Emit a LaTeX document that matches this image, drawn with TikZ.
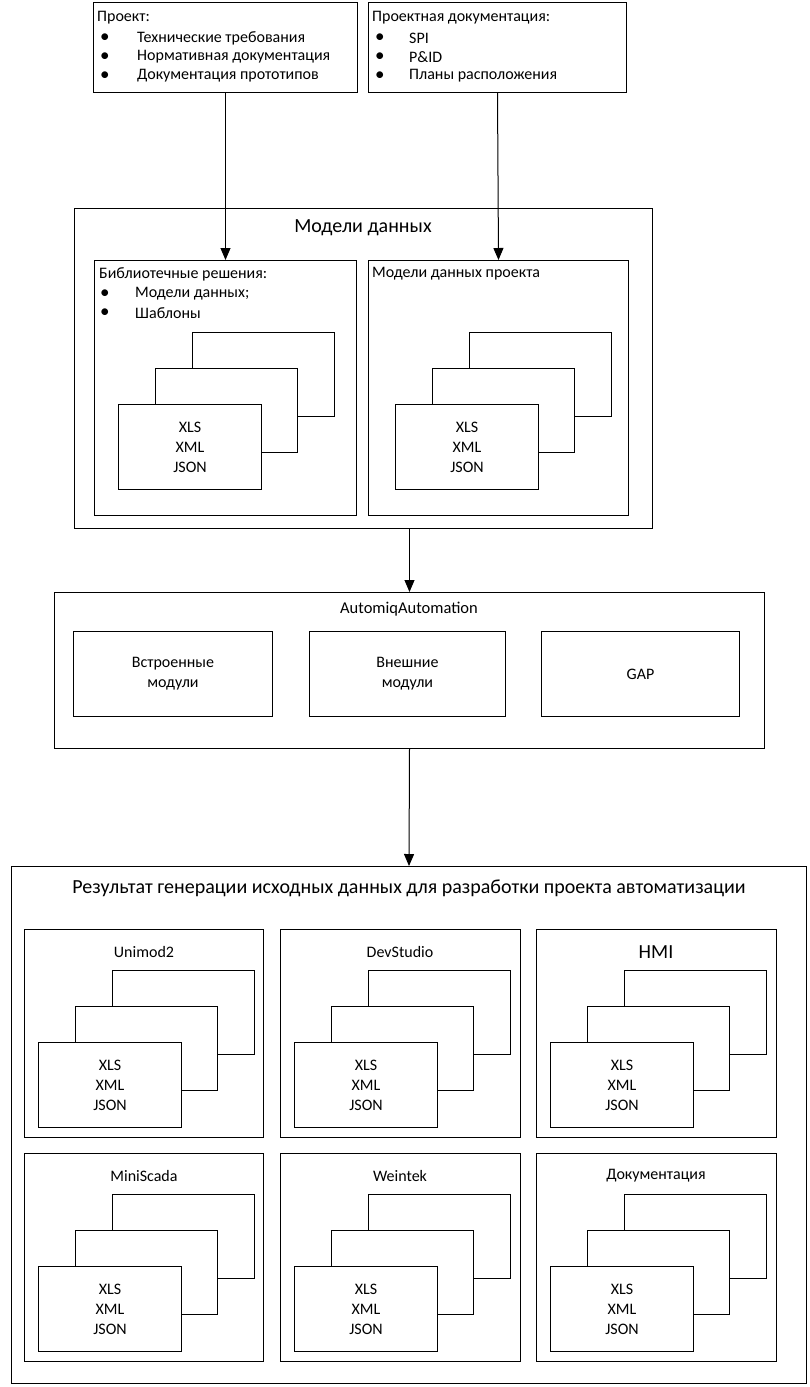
\documentclass[tikz,border=0pt]{standalone}
\usepackage{fontspec}
\setmainfont{Carlito}
\usetikzlibrary{arrows.meta}
\newcommand{\bodyfont}{\fontsize{16}{20}\selectfont}
\newcommand{\filestack}[3]{%
  \node[box, minimum width=142pt, minimum height=84pt] (#3b) at (#1+74,#2-72) {};
  \node[box, minimum width=142pt, minimum height=84pt] (#3m) at (#1+37,#2-36) {};
  \node[box, minimum width=143pt, minimum height=85pt, align=center, font=\bodyfont] (#3f) at (#1,#2) {XLS\\XML\\JSON};
}
\newcommand{\resbox}[5]{%
  \node[box, minimum width=#3pt, minimum height=208pt] (#5) at (#1,#2) {};
  \node[lbl] (#5l) at (#1+120,#2+23) {#4};
  \filestack{#1+14}{#2+113}{#5s}
}
\begin{document}
\begin{tikzpicture}[x=1pt,y=-1pt,
  box/.style={draw, line width=1pt, fill=white, inner sep=0pt, anchor=north west},
  txt/.style={font=\bodyfont, inner sep=0pt, anchor=west},
  bul/.style={font=\fontsize{19}{20}\selectfont, inner sep=0pt, anchor=west},
  lbl/.style={font=\bodyfont, inner sep=0pt},
  arr/.style={-{Triangle[length=12pt,width=10pt]}, line width=1pt}]
\useasboundingbox[fill=white] (0,0) rectangle (809,1387);

% top boxes
\node[box, minimum width=264pt, minimum height=90pt] (tl) at (93,2) {};
\node[txt] (tl0) at (97,18) {Проект:};
\node[bul] (tl1b) at (100,38) {•};
\node[txt] (tl1) at (137,38) {Технические требования};
\node[bul] (tl2b) at (100,57) {•};
\node[txt] (tl2) at (137,57) {Нормативная документация};
\node[bul] (tl3b) at (100,76) {•};
\node[txt] (tl3) at (137,76) {Документация прототипов};

\node[box, minimum width=258pt, minimum height=90pt] (tr) at (368,2) {};
\node[txt] (tr0) at (372,18) {Проектная документация:};
\node[bul] (tr1b) at (375,38) {•};
\node[txt] (tr1) at (409,38) {SPI};
\node[bul] (tr2b) at (375,57) {•};
\node[txt] (tr2) at (409,57) {P\&ID};
\node[bul] (tr3b) at (375,76) {•};
\node[txt] (tr3) at (409,76) {Планы расположения};

% data models
\node[box, minimum width=578pt, minimum height=320pt] (models) at (74,208) {};
\node[lbl, font=\fontsize{20}{24}\selectfont] (modelsl) at (363,228) {Модели данных};
\node[box, minimum width=262pt, minimum height=255pt] (lib) at (94,260) {};
\node[txt] (lib0) at (99,274) {Библиотечные решения:};
\node[bul] (lib1b) at (100,294) {•};
\node[txt] (lib1) at (135,294) {Модели данных;};
\node[bul] (lib2b) at (100,313) {•};
\node[txt] (lib2) at (135,313) {Шаблоны};
\filestack{118}{404}{libs}

\node[box, minimum width=260pt, minimum height=255pt] (proj) at (368,260) {};
\node[txt] (proj0) at (372,274) {Модели данных проекта};
\filestack{395}{404}{projs}

% AutomiqAutomation
\node[box, minimum width=710pt, minimum height=156pt] (aut) at (54,592) {};
\node[lbl, font=\fontsize{16.5}{20}\selectfont] (autl) at (409,609) {AutomiqAutomation};
\node[box, minimum width=199pt, minimum height=85pt, align=center, font=\bodyfont] (m1) at (73,631) {Встроенные\\модули};
\node[box, minimum width=196pt, minimum height=85pt, align=center, font=\bodyfont] (m2) at (309,631) {Внешние\\модули};
\node[box, minimum width=198pt, minimum height=85pt, align=center, font=\bodyfont] (m3) at (541,631) {GAP};

% result
\node[box, minimum width=795pt, minimum height=517pt] (res) at (11,866) {};
\node[lbl, font=\fontsize{20}{24}\selectfont] (resl) at (409,888) {Результат генерации исходных данных для разработки проекта автоматизации};
\resbox{24}{929}{239}{Unimod2}{r1}
\resbox{280}{929}{240}{DevStudio}{r2}
\resbox{536}{929}{240}{\fontsize{20}{20}\selectfont HMI}{r3}
\resbox{24}{1153}{239}{MiniScada}{r4}
\resbox{280}{1153}{240}{Weintek}{r5}
\resbox{536}{1153}{240}{Документация}{r6}

% arrows
\draw[arr] (tl.south) -- (lib.north);
\draw[arr] (tr.south) -- (proj.north);
\draw[arr] (aut.north |- models.south) -- (aut.north);
\draw[arr] (aut.south) -- (res.north);
\end{tikzpicture}
\end{document}
